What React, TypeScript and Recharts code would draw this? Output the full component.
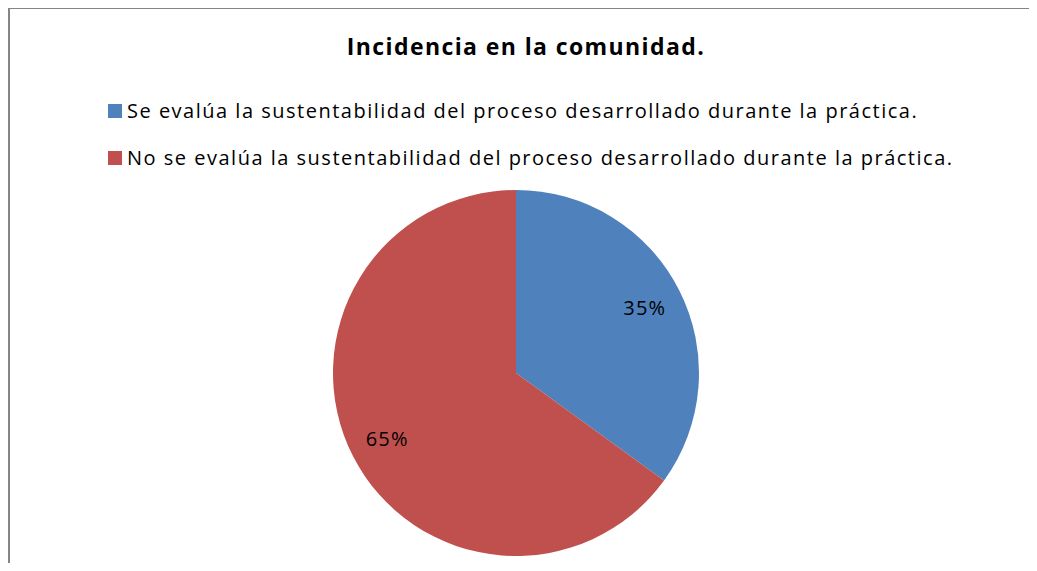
import React from 'react';
import { PieChart, Pie, Cell } from 'recharts';

const categories = [
  'Se evalúa la sustentabilidad del proceso desarrollado durante la práctica.',
  'No se evalúa la sustentabilidad del proceso desarrollado durante la práctica.',
];
const values = [35, 65];
const colors = ['#4F81BD', '#C0504D'];
const title = 'Incidencia en la comunidad.';

const data = categories.map((name, i) => ({ name, value: values[i] }));

const FONT = '"Open Sans", Lato, sans-serif';
const RADIAN = Math.PI / 180;

const renderLabel = (props: any) => {
  const { cx, cy, midAngle, outerRadius, percent } = props;
  const r = outerRadius * 0.79;
  const x = cx + r * Math.cos(-midAngle * RADIAN);
  const y = cy + r * Math.sin(-midAngle * RADIAN);
  return (
    <text x={x} y={y} fill="#000" textAnchor="middle" dominantBaseline="central"
      fontSize={20} fontFamily={FONT} letterSpacing={1.2}>
      {`${Math.round(percent * 100)}%`}
    </text>
  );
};

export default function App() {
  return (
    <div style={{ margin: -8, position: 'relative', width: 1037, height: 571, background: '#fff', overflow: 'hidden' }}>
      <div style={{
        position: 'absolute', left: 7, top: 6, width: 1022, height: 580,
        borderLeft: '3px solid #858585', borderTop: '3px solid #858585',
      }} />
      <div style={{ position: 'absolute', left: 0, top: 0 }}>
        <PieChart width={1037} height={571} margin={{ top: 0, right: 0, bottom: 0, left: 0 }}>
          <Pie
            data={data}
            dataKey="value"
            nameKey="name"
            cx={516}
            cy={373}
            outerRadius={183}
            startAngle={90}
            endAngle={-270}
            stroke="none"
            label={renderLabel}
            labelLine={false}
            isAnimationActive={false}
          >
            {data.map((_, i) => (
              <Cell key={i} fill={colors[i]} />
            ))}
          </Pie>
        </PieChart>
      </div>
      <div style={{
        position: 'absolute', left: 0, width: 1052, top: 30, textAlign: 'center',
        fontFamily: FONT, fontWeight: 'bold', fontSize: 23, letterSpacing: 1.4, color: '#000',
      }}>{title}</div>
      <div style={{
        position: 'absolute', left: 108, top: 87, fontFamily: FONT, fontSize: 20,
        letterSpacing: 1.5, color: '#000', whiteSpace: 'nowrap',
      }}>
        {data.map((d, i) => (
          <div key={i} style={{ display: 'flex', alignItems: 'center', height: 47 }}>
            <span style={{ display: 'inline-block', width: 14, height: 14, background: colors[i], marginRight: 5 }} />
            <span>{d.name}</span>
          </div>
        ))}
      </div>
    </div>
  );
}
